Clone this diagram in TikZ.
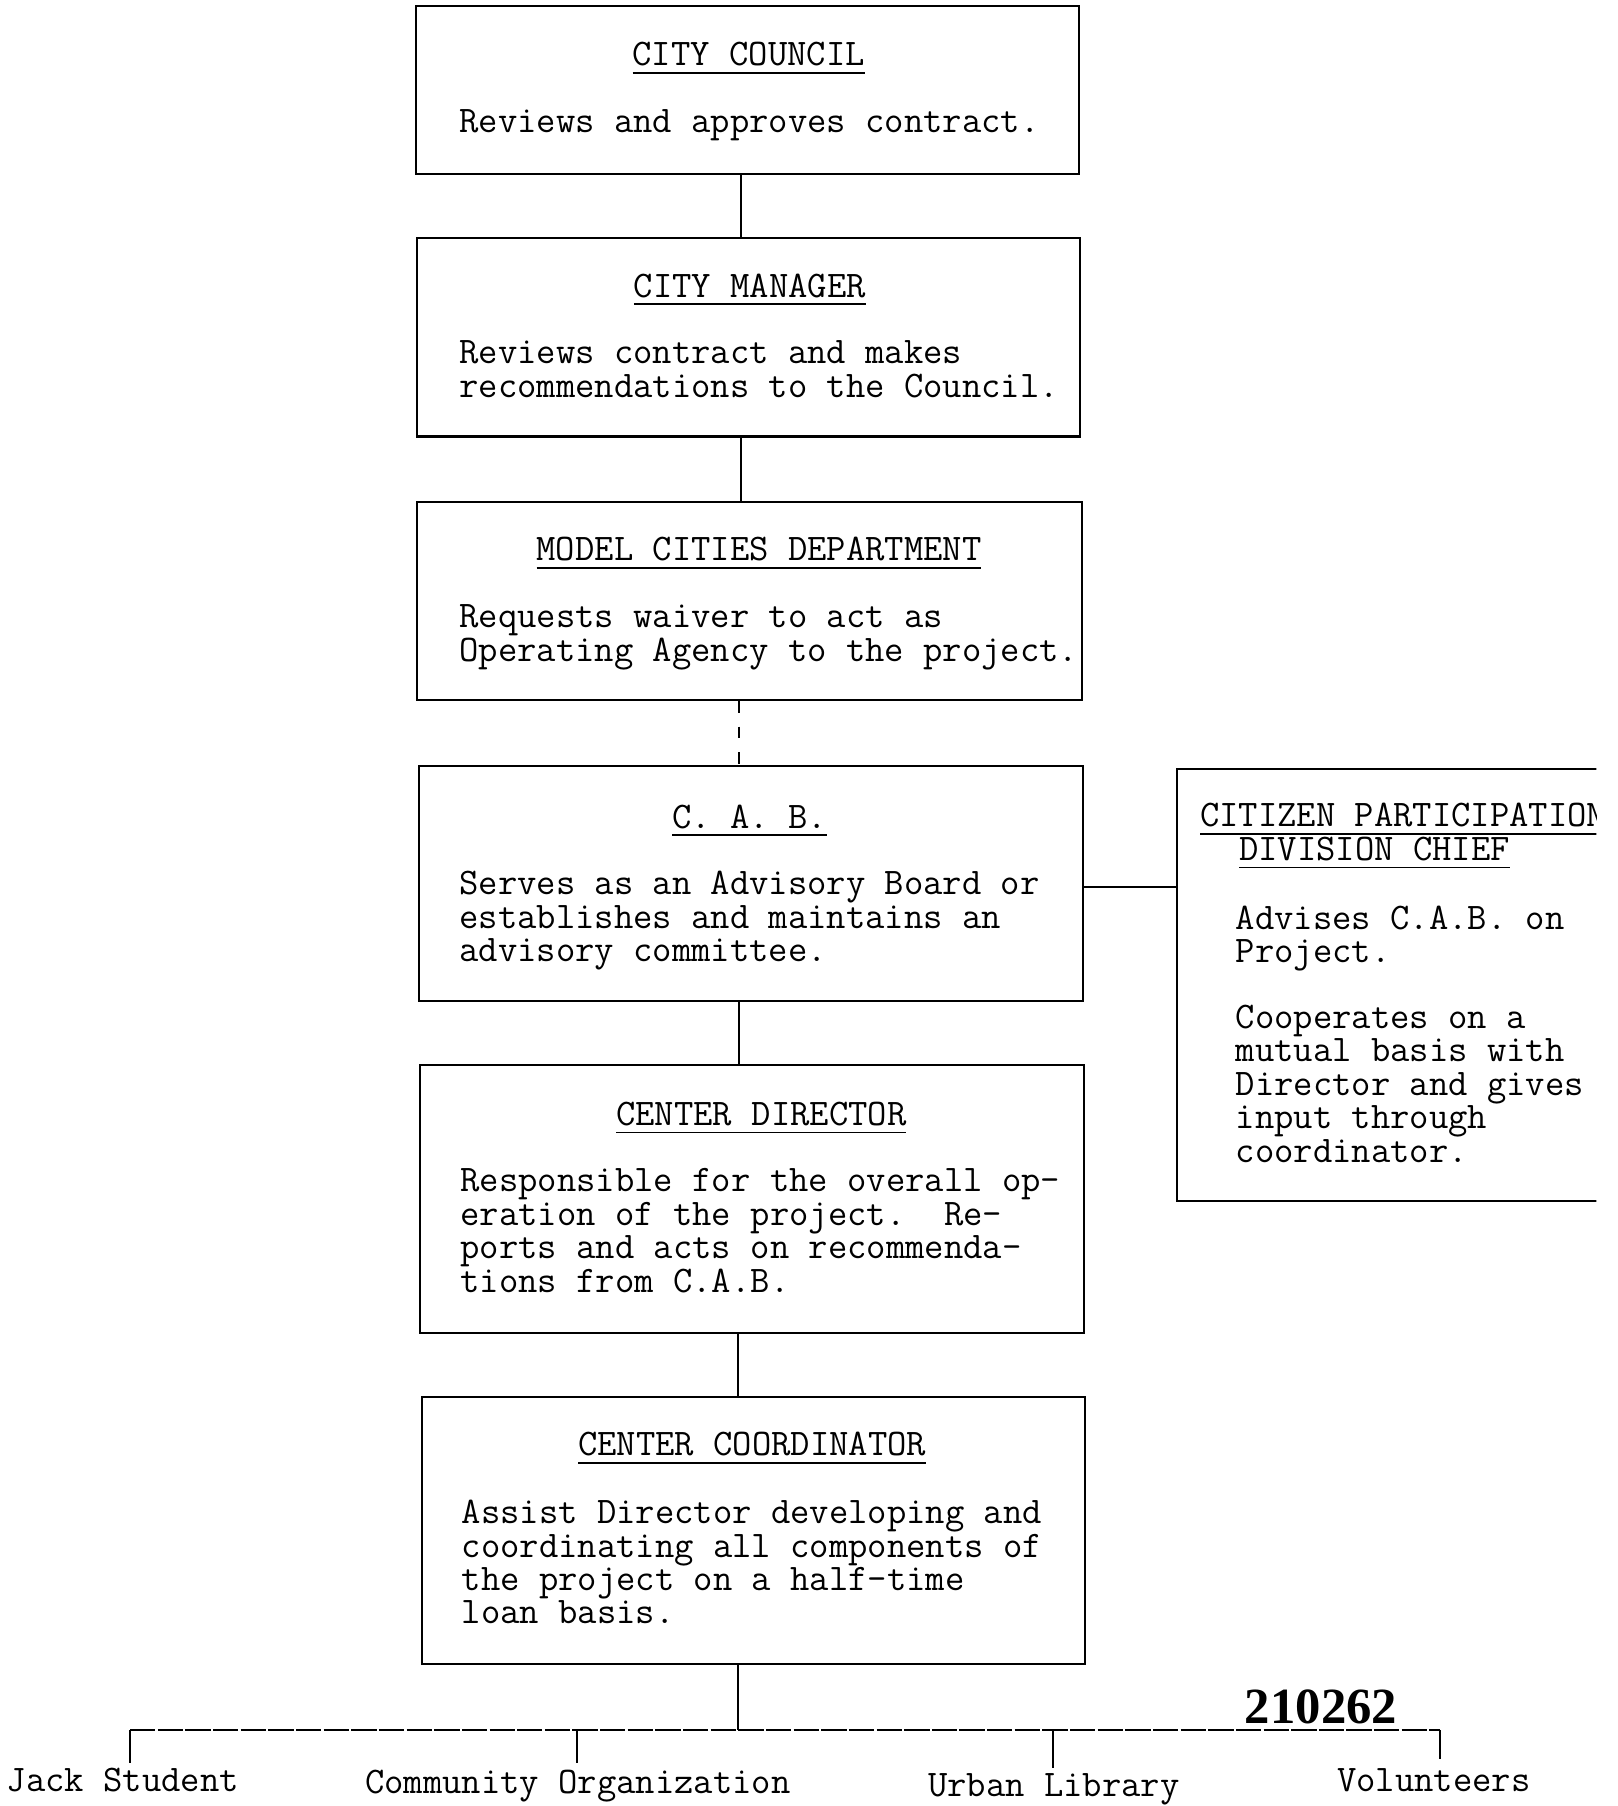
\documentclass[tikz,border=0pt]{standalone}
\usepackage{fontspec}
\newfontfamily\stampfont{Liberation Serif}
\newcommand\fstrut{\rule{0pt}{24pt}}
\newcommand\uline[1]{\setbox0\hbox{#1}\rlap{\rule[-7pt]{\wd0}{1.6pt}}\box0}
\begin{document}
\begin{tikzpicture}[x=1pt,y=-1pt,line width=1.8pt,
  box/.style={draw,rectangle,inner sep=0pt},
  txt/.style={inner sep=0pt,align=left,anchor=north west,font=\ttfamily\fontsize{32.6}{29}\selectfont},
  ttl/.style={inner sep=0pt,anchor=base,font=\ttfamily\fontsize{32.6}{29}\selectfont},
  lbl/.style={inner sep=0pt,anchor=base west,font=\ttfamily\fontsize{32.6}{29}\selectfont},
  conn/.style={line width=1.8pt},
  dconn/.style={line width=1.8pt,dash pattern=on 10pt off 12pt},
  busline/.style={line width=1.6pt,dash pattern=on 22pt off 2pt}]
\useasboundingbox (0,0) rectangle (1404,1568);
\fill[white] (0,0) rectangle (1404,1568);

% boxes
\node[box,minimum width=576pt,minimum height=146pt] (cc)  at (649,78) {};
\node[box,minimum width=576pt,minimum height=172pt] (cm)  at (650,293) {};
\node[box,minimum width=577pt,minimum height=172pt] (mcd) at (650.5,522) {};
\node[box,minimum width=576pt,minimum height=204pt] (cab) at (652,767) {};
\node[box,minimum width=576pt,minimum height=232pt] (cd)  at (653,1041) {};
\node[box,minimum width=576pt,minimum height=232pt] (cco) at (654,1329) {};

% titles
\node[ttl] (t1) at (650,57)  {\uline{CITY COUNCIL}};
\node[ttl] (t2) at (651,258) {\uline{CITY MANAGER}};
\node[ttl] (t3) at (659,487) {\uline{MODEL CITIES DEPARTMENT}};
\node[ttl] (t4) at (651,719) {\uline{C. A. B.}};
\node[ttl] (t5) at (661,977) {\uline{CENTER DIRECTOR}};
\node[ttl] (t6) at (653,1264) {\uline{CENTER COORDINATOR}};

% bodies
\node[txt] (b1) at (398,90) {\fstrut Reviews and approves contract.};
\node[txt] (b2) at (398,291) {\fstrut Reviews contract and makes\\recommendations to the Council.};
\node[txt] (b3) at (398,520) {\fstrut Requests waiver to act as\\Operating Agency to the project.};
\node[txt] (b4) at (398,752) {\fstrut Serves as an Advisory Board or\\establishes and maintains an\\advisory committee.};
\node[txt] (b5) at (399,1010) {\fstrut Responsible for the overall op-\\eration of the project.\ \ Re-\\ports and acts on recommenda-\\tions from C.A.B.};
\node[txt] (b6) at (400,1298) {\fstrut Assist Director developing and\\coordinating all components of\\the project on a half-time\\loan basis.};

% side box (cut by page edge)
\begin{scope}
\clip (0,0) rectangle (1386,1568);
\node[box,minimum width=418pt,minimum height=375pt] (cpdc) at (1231,855.5) {};
\node[lbl] (t7a) at (1041,718) {\uline{CITIZEN PARTICIPATION}};
\node[lbl] (t7b) at (1075,747) {\uline{DIVISION CHIEF}};
\node[txt] (b7a) at (1072,782) {\fstrut Advises C.A.B. on\\Project.};
\node[txt] (b7b) at (1072,868) {\fstrut Cooperates on a\\mutual basis with\\Director and gives\\input through\\coordinator.};
\end{scope}

% vertical connectors
\coordinate (vx1) at (643,0);
\coordinate (vx2) at (642,0);
\coordinate (vx3) at (641,0);
\draw[conn] (cc.south -| vx1) -- (cm.north -| vx1);
\draw[conn] (cm.south -| vx1) -- (mcd.north -| vx1);
\draw[dconn] (mcd.south -| vx2) -- (cab.north -| vx2);
\draw[conn] (cab.south -| vx2) -- (cd.north -| vx2);
\draw[conn] (cd.south -| vx3) -- (cco.north -| vx3);

% side connector
\coordinate (hy) at (0,770);
\draw[conn] (cab.east |- hy) -- (cpdc.west |- hy);

% bus
\coordinate (bus0) at (641,1502);
\coordinate (busL) at (113,1502);
\coordinate (busR) at (1250,1502);
\coordinate (d1) at (113,1531);
\coordinate (d2top) at (501,1502);
\coordinate (d2) at (501,1531);
\coordinate (d3top) at (914,1502);
\coordinate (d3) at (914,1535);
\coordinate (d4) at (1250,1527);
\draw[conn] (cco.south -| vx3) -- (bus0);
\draw[busline] (busL) -- (busR);
\draw[conn] (busL) -- (d1);
\draw[conn] (d2top) -- (d2);
\draw[conn] (d3top) -- (d3);
\draw[conn] (busR) -- (d4);

% bottom labels
\node[lbl] (jack)  at (5,1555)    {Jack Student};
\node[lbl] (comm)  at (316,1557)  {Community Organization};
\node[lbl] (urban) at (805,1560)  {Urban Library};
\node[lbl] (vol)   at (1160,1555) {Volunteers};

% stamp number
\node[inner sep=0pt,anchor=base west,font=\stampfont\bfseries\fontsize{44}{44}\selectfont] (num) at (1080,1496) {210262};
\end{tikzpicture}
\end{document}
